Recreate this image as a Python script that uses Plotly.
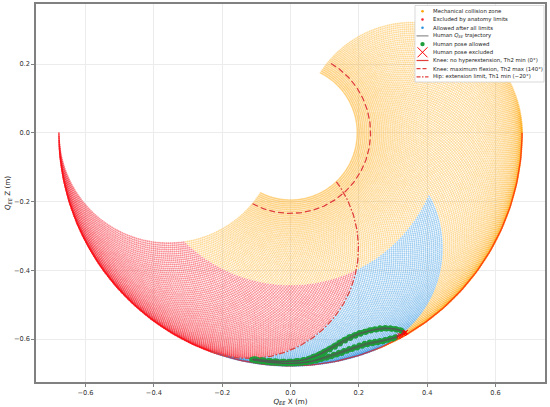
import numpy as np
import plotly.graph_objects as go

# ---------------- data / parameters ----------------
L_THIGH = 0.357          # m
L_SHANK = 0.321          # m
TH1_SAMPLES = np.arange(-90, 91, 1)    # hip angle samples (deg)
TH2_SAMPLES = np.arange(0, 148, 1)     # knee angle samples (deg)

TH1_MIN_ANAT = -20       # hip extension limit
TH2_MIN_ANAT = 0         # knee no hyperextension
TH2_MAX_ANAT = 140       # knee max flexion
TH1_MAX_MECH = 20        # mechanical limit (hip)
TH2_MAX_MECH = 98        # mechanical limit (knee)

# human end-effector trajectory, three gait cycles (m)
CYC1_X = [0.335, 0.320, 0.305, 0.290, 0.275, 0.260, 0.245, 0.230, 0.215, 0.200, 0.185, 0.170, 0.155, 0.140,
          0.125, 0.110, 0.095, 0.080, 0.065, 0.050, 0.035, 0.020, 0.005, -0.010, -0.025, -0.040, -0.055,
          -0.070, -0.085, -0.100, -0.113, -0.105, -0.085, -0.065, -0.045, -0.025, -0.005, 0.015, 0.035,
          0.055, 0.070, 0.085, 0.100, 0.115, 0.130, 0.145, 0.160, 0.175, 0.190, 0.205, 0.220, 0.235,
          0.250, 0.265, 0.280, 0.295, 0.310, 0.325, 0.335]
CYC1_Z = [-0.582, -0.590, -0.596, -0.600, -0.604, -0.607, -0.610, -0.612, -0.616, -0.621, -0.626, -0.631,
          -0.636, -0.642, -0.647, -0.652, -0.656, -0.660, -0.664, -0.667, -0.669, -0.670, -0.671, -0.671,
          -0.670, -0.669, -0.668, -0.667, -0.665, -0.663, -0.660, -0.658, -0.661, -0.663, -0.664, -0.665,
          -0.665, -0.664, -0.662, -0.657, -0.652, -0.646, -0.639, -0.631, -0.623, -0.614, -0.605, -0.598,
          -0.591, -0.585, -0.580, -0.576, -0.573, -0.571, -0.570, -0.571, -0.573, -0.576, -0.582]
CYC2_X = [0.332, 0.316, 0.300, 0.285, 0.270, 0.255, 0.240, 0.225, 0.210, 0.195, 0.180, 0.165, 0.150, 0.135,
          0.120, 0.105, 0.090, 0.075, 0.060, 0.045, 0.030, 0.015, 0.000, -0.015, -0.030, -0.045, -0.060,
          -0.075, -0.090, -0.104, -0.110, -0.098, -0.078, -0.058, -0.038, -0.018, 0.002, 0.022, 0.040,
          0.058, 0.073, 0.088, 0.103, 0.118, 0.133, 0.148, 0.163, 0.178, 0.193, 0.208, 0.223, 0.238,
          0.253, 0.268, 0.283, 0.298, 0.313, 0.326, 0.332]
CYC2_Z = [-0.585, -0.593, -0.599, -0.603, -0.607, -0.610, -0.613, -0.616, -0.620, -0.625, -0.630, -0.635,
          -0.641, -0.646, -0.651, -0.655, -0.659, -0.663, -0.666, -0.668, -0.670, -0.671, -0.671, -0.671,
          -0.670, -0.669, -0.668, -0.666, -0.664, -0.661, -0.659, -0.660, -0.662, -0.664, -0.665, -0.665,
          -0.665, -0.663, -0.660, -0.655, -0.649, -0.642, -0.634, -0.626, -0.617, -0.608, -0.600, -0.593,
          -0.587, -0.582, -0.577, -0.574, -0.572, -0.570, -0.569, -0.570, -0.572, -0.577, -0.585]
CYC3_X = [0.337, 0.322, 0.307, 0.292, 0.277, 0.262, 0.247, 0.232, 0.217, 0.202, 0.187, 0.172, 0.157, 0.142,
          0.127, 0.112, 0.097, 0.082, 0.067, 0.052, 0.037, 0.022, 0.007, -0.008, -0.023, -0.038, -0.053,
          -0.068, -0.083, -0.097, -0.108, -0.100, -0.080, -0.060, -0.040, -0.020, 0.000, 0.020, 0.038,
          0.052, 0.067, 0.082, 0.097, 0.112, 0.127, 0.142, 0.157, 0.172, 0.187, 0.202, 0.217, 0.232,
          0.247, 0.262, 0.277, 0.292, 0.307, 0.322, 0.337]
CYC3_Z = [-0.580, -0.588, -0.594, -0.598, -0.602, -0.605, -0.607, -0.609, -0.613, -0.618, -0.623, -0.628,
          -0.634, -0.639, -0.645, -0.650, -0.654, -0.659, -0.663, -0.666, -0.668, -0.670, -0.671, -0.671,
          -0.671, -0.670, -0.669, -0.667, -0.665, -0.663, -0.661, -0.659, -0.662, -0.664, -0.665, -0.665,
          -0.665, -0.664, -0.661, -0.657, -0.651, -0.645, -0.637, -0.629, -0.620, -0.611, -0.602, -0.594,
          -0.588, -0.582, -0.578, -0.574, -0.571, -0.568, -0.567, -0.568, -0.570, -0.574, -0.580]

X_TICKS = [-0.6, -0.4, -0.2, 0.0, 0.2, 0.4, 0.6]
Z_TICKS = [-0.6, -0.4, -0.2, 0.0, 0.2]

LEGEND_LABELS = [
    "Mechanical collision zone",
    "Excluded by anatomy limits",
    "Allowed after all limits",
    "Human <i>Q<sub>EE</sub></i> trajectory",
    "Human pose allowed",
    "Human pose excluded",
    "Knee: no hyperextension, Th2 min (0°)",
    "Knee: maximum flexion, Th2 max (140°)",
    "Hip: extension limit, Th1 min (\u221220°)",
]

C_ORANGE = "#FFA500"
C_RED = "#F5202E"
C_BLUE = "#2C93E0"
C_GREEN = "#1E9E3A"
C_LIM = "#E0403C"


# ---------------- kinematics ----------------
def fk(th1, th2):
    a1 = np.radians(270.0 + np.asarray(th1, float))
    a2 = a1 + np.radians(np.asarray(th2, float))
    return (L_THIGH * np.cos(a1) + L_SHANK * np.cos(a2),
            L_THIGH * np.sin(a1) + L_SHANK * np.sin(a2))


def ik(x, z):
    x = np.asarray(x, float); z = np.asarray(z, float)
    c = (x ** 2 + z ** 2 - L_THIGH ** 2 - L_SHANK ** 2) / (2 * L_THIGH * L_SHANK)
    th2 = np.arccos(np.clip(c, -1, 1))
    delta = np.arctan2(L_SHANK * np.sin(th2), L_THIGH + L_SHANK * np.cos(th2))
    a1 = np.degrees(np.arctan2(z, x) - delta) - 270.0
    th1 = (a1 + 180.0) % 360.0 - 180.0
    return th1, np.degrees(th2)


T1, T2 = np.meshgrid(TH1_SAMPLES, TH2_SAMPLES)
T1 = T1.ravel(); T2 = T2.ravel()
GX, GZ = fk(T1, T2)
collide = (T2 > TH2_MAX_MECH) | (T1 > TH1_MAX_MECH)
anat_bad = (T1 < TH1_MIN_ANAT) | (T2 > TH2_MAX_ANAT) | (T2 < TH2_MIN_ANAT)
m_orange = collide
m_red = (~collide) & anat_bad
m_blue = (~collide) & (~anat_bad)

fig = go.Figure()
for m, col, op in [(m_orange, C_ORANGE, 0.4), (m_red, C_RED, 0.5), (m_blue, C_BLUE, 0.45)]:
    fig.add_trace(go.Scatter(x=GX[m], y=GZ[m], mode="markers",
                             marker=dict(size=1.8, color=col, opacity=op, line=dict(width=0)),
                             hoverinfo="skip", showlegend=False))

# limit lines
lx, lz = fk(TH1_SAMPLES, np.full(len(TH1_SAMPLES), TH2_MIN_ANAT))
fig.add_trace(go.Scatter(x=lx, y=lz, mode="lines", line=dict(color="red", width=1.4),
                         opacity=0.6, hoverinfo="skip", showlegend=False))
lx, lz = fk(TH1_SAMPLES, np.full(len(TH1_SAMPLES), TH2_MAX_ANAT))
fig.add_trace(go.Scatter(x=lx, y=lz, mode="lines",
                         line=dict(color=C_LIM, width=1.3, dash="6px,3px"),
                         hoverinfo="skip", showlegend=False))
lx, lz = fk(np.full(len(TH2_SAMPLES), TH1_MIN_ANAT), TH2_SAMPLES)
fig.add_trace(go.Scatter(x=lx, y=lz, mode="lines",
                         line=dict(color=C_LIM, width=1.3, dash="6px,2px,1.5px,2px"),
                         hoverinfo="skip", showlegend=False))

# human trajectory
cycles = [(CYC1_X, CYC1_Z), (CYC2_X, CYC2_Z), (CYC3_X, CYC3_Z)]
allx = np.concatenate([c[0] for c in cycles]); allz = np.concatenate([c[1] for c in cycles])
h1, h2 = ik(allx, allz)
excl = (h1 > TH1_MAX_MECH) | (h1 < TH1_MIN_ANAT) | (h2 > TH2_MAX_MECH)
fig.add_trace(go.Scatter(x=allx[~excl], y=allz[~excl], mode="markers",
                         marker=dict(size=5.5, color=C_GREEN, line=dict(width=0)),
                         hoverinfo="skip", showlegend=False))
for cx, cz in cycles:
    fig.add_trace(go.Scatter(x=cx, y=cz, mode="lines", line=dict(color="#555555", width=0.7),
                             hoverinfo="skip", showlegend=False))
fig.add_trace(go.Scatter(x=allx[excl], y=allz[excl], mode="markers",
                         marker=dict(symbol="x-thin", size=4, line=dict(color="red", width=1)),
                         hoverinfo="skip", showlegend=False))

# ---------------- manual legend ----------------
W, H, ML, MR, MB, MT = 550, 407, 36, 5, 25, 4
PW, PH = W - ML - MR, H - MB - MT
px2x = lambda p: (p - ML) / PW
py2y = lambda p: (H - MB - p) / PH
shapes = [dict(type="rect", xref="paper", yref="paper", x0=px2x(415), x1=px2x(544),
               y0=py2y(82), y1=py2y(5.5), fillcolor="white", line=dict(color="#cfcfcf", width=0.8),
               layer="above")]
annots = []
rows = [11.3 + 8.2 * i for i in range(9)]
gx = px2x(422.5)
for i, (lab, py) in enumerate(zip(LEGEND_LABELS, rows)):
    yy = py2y(py)
    annots.append(dict(xref="paper", yref="paper", x=px2x(430.5), y=yy, text=lab, showarrow=False,
                       xanchor="left", yanchor="middle", font=dict(size=5.4, color="#222")))
    if i < 3 or i == 4:
        col = [C_ORANGE, C_RED, C_BLUE, None, C_GREEN][i]
        r = 2.2 if i == 4 else 1.3
        shapes.append(dict(type="circle", xref="paper", yref="paper", xsizemode="pixel",
                           ysizemode="pixel", xanchor=gx, yanchor=yy, x0=-r, x1=r, y0=-r, y1=r,
                           fillcolor=col, line=dict(width=0), layer="above"))
    elif i == 3:
        shapes.append(dict(type="line", xref="paper", yref="paper", x0=px2x(416.5), x1=px2x(428.5),
                           y0=yy, y1=yy, line=dict(color="#555555", width=0.8), layer="above"))
    elif i == 5:
        for s in (1, -1):
            shapes.append(dict(type="line", xref="paper", yref="paper", xsizemode="pixel",
                               ysizemode="pixel", xanchor=gx, yanchor=yy, x0=-5, x1=5,
                               y0=-5 * s, y1=5 * s, line=dict(color="red", width=1), layer="above"))
    else:
        dash = {6: "solid", 7: "4px,2px", 8: "4px,1.5px,1.5px,1.5px"}[i]
        shapes.append(dict(type="line", xref="paper", yref="paper", x0=px2x(416.5), x1=px2x(428.5),
                           y0=yy, y1=yy, line=dict(color=C_LIM, width=1.2, dash=dash), layer="above"))

axis_common = dict(showgrid=True, gridcolor="#ececec", gridwidth=0.6, zeroline=False,
                   showline=True, linecolor="#808080", linewidth=1.5, mirror=True,
                   ticks="outside", ticklen=3, tickcolor="#808080", tickwidth=1,
                   tickfont=dict(size=6.6, color="#333"), tickformat=".1f", automargin=False)
fig.update_layout(
    width=W, height=H, margin=dict(l=ML, r=MR, t=MT, b=MB, autoexpand=False),
    paper_bgcolor="white", plot_bgcolor="white",
    font=dict(family="DejaVu Sans", color="#222"),
    showlegend=False, shapes=shapes, annotations=annots,
    xaxis=dict(range=[-0.745, 0.745], tickvals=X_TICKS,
               title=dict(text="<i>Q<sub>EE</sub></i> X (m)", font=dict(size=7.2), standoff=2),
               **axis_common),
    yaxis=dict(range=[-0.725, 0.375], tickvals=Z_TICKS,
               title=dict(text="<i>Q<sub>EE</sub></i> Z (m)", font=dict(size=7.2), standoff=2),
               **axis_common),
)
fig.write_html("out.html", config={"displayModeBar": False},
               post_script="document.body.style.margin='0';document.body.style.overflow='hidden';")
